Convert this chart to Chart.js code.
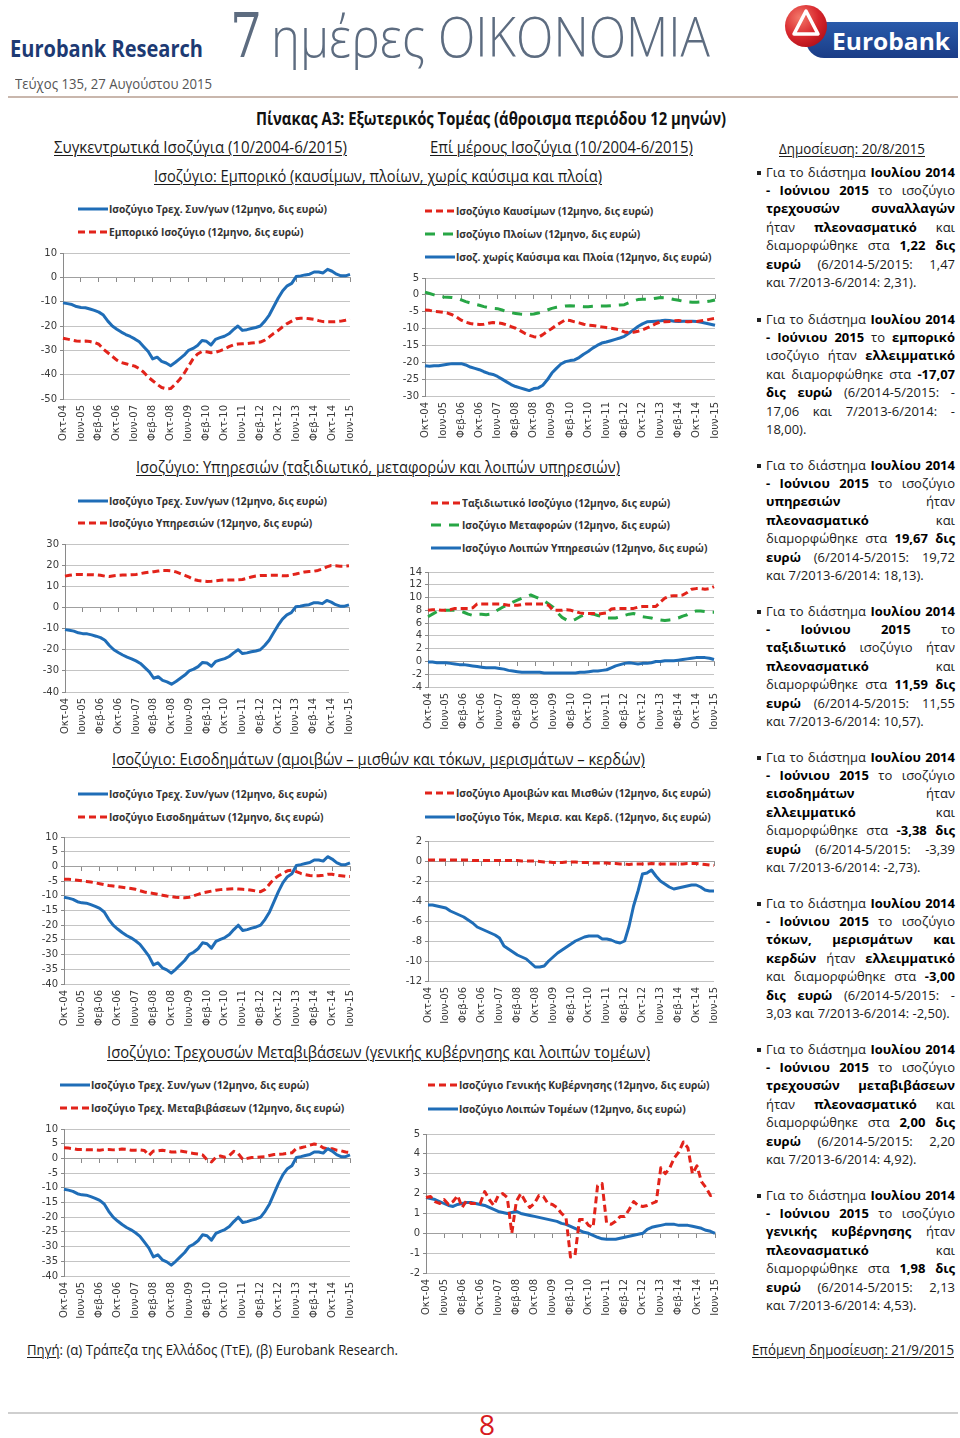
<!DOCTYPE html>
<html lang="el">
<head>
<meta charset="utf-8">
<title>7 ημέρες ΟΙΚΟΝΟΜΙΑ – Πίνακας Α3</title>
<script src="https://cdn.jsdelivr.net/npm/chart.js@4.4.1/dist/chart.umd.min.js"></script>
<style>
  html, body { margin: 0; padding: 0; background: #fff; }
  body { position: relative; width: 960px; height: 1438px; overflow: hidden;
         font-family: 'Open Sans', 'Noto Sans', sans-serif; color: #1a1a1a; }
  .t { position: absolute; white-space: nowrap; transform-origin: 0 50%; }
  .u { text-decoration: underline; text-decoration-thickness: 1px; text-underline-offset: 2px; }
  .rule { position: absolute; left: 8px; width: 950px; height: 2px; }
  .box { position: absolute; }
  .lg { position: absolute; height: 16px; display: flex; align-items: center; white-space: nowrap;
        font-weight: 700; font-size: 10.5px; color: #333; }
  .lg svg { flex: none; margin-right: 1px; }
  .lg span { display: inline-block; transform-origin: 0 50%; }
  .note { position: absolute; left: 766px; width: 189px; font-size: 13px; line-height: 18.4px; color: #1a1a1a; }
  .note .ln { display: flex; justify-content: space-between; white-space: nowrap; height: 18.4px; }
  .note .ln.last { display: block; }
  .note b { font-weight: 700; color: #000; }
  .note .sq { position: absolute; left: -9px; top: 8px; width: 4px; height: 4px; background: #222; }
</style>
</head>
<body>

<div class="t" style="left:10px;top:33px;font-size:23px;line-height:30px;font-weight:700;color:#1d3a73" data-w="193">Eurobank Research</div>
<div class="t" style="left:230px;top:3px;font-family:'DejaVu Serif';font-size:62px;line-height:66px;color:#5d6c80" data-w="32">7</div>
<div class="t" style="left:271px;top:5px;font-size:56px;line-height:60px;font-weight:300;color:#5d6c80" data-w="439">ημέρες ΟΙΚΟΝΟΜΙΑ</div>

<svg class="box" style="left:784px;top:3px" width="176" height="58" viewBox="0 0 176 58">
  <defs>
    <radialGradient id="rg" cx="35%" cy="30%" r="75%">
      <stop offset="0" stop-color="#f47a6b"/><stop offset="0.6" stop-color="#d8272d"/><stop offset="1" stop-color="#b5121b"/>
    </radialGradient>
    <linearGradient id="bg" x1="0" y1="0" x2="0" y2="1">
      <stop offset="0" stop-color="#2a5bab"/><stop offset="1" stop-color="#1a3c86"/>
    </linearGradient>
  </defs>
  <path d="M40 19 H174 V55 H40 A18 18 0 0 1 40 19 Z" fill="url(#bg)"/>
  <circle cx="22" cy="23" r="21" fill="url(#rg)"/>
  <path d="M22 8 L34 31 H10 Z" fill="none" stroke="#fff" stroke-width="3.5" stroke-linejoin="round"/>
</svg>
<div class="t" style="left:832px;top:26px;font-size:24px;line-height:30px;font-weight:700;color:#fff" data-w="118">Eurobank</div>

<div class="t" style="left:15px;top:73px;font-size:15px;line-height:20px;color:#555" data-w="197">Τεύχος 135, 27 Αυγούστου 2015</div>
<div class="rule" style="top:96px;background:#c9b7ad"></div>

<div class="t" style="left:256px;top:108px;font-size:17px;line-height:22px;font-weight:700;color:#111" data-w="470">Πίνακας Α3: Εξωτερικός Τομέας (άθροισμα περιόδου 12 μηνών)</div>
<div class="t u" style="left:54px;top:136px;font-size:17px;line-height:22px" data-w="293">Συγκεντρωτικά Ισοζύγια (10/2004-6/2015)</div>
<div class="t u" style="left:430px;top:136px;font-size:17px;line-height:22px" data-w="263">Επί μέρους Ισοζύγια (10/2004-6/2015)</div>
<div class="t u" style="left:779px;top:138px;font-size:15px;line-height:20px" data-w="146">Δημοσίευση: 20/8/2015</div>

<div class="t u" style="left:154px;top:165px;font-size:17px;line-height:22px" data-w="448">Ισοζύγιο: Εμπορικό (καυσίμων, πλοίων, χωρίς καύσιμα και πλοία)</div>
<div class="t u" style="left:136px;top:456px;font-size:17px;line-height:22px" data-w="484">Ισοζύγιο: Υπηρεσιών (ταξιδιωτικό, μεταφορών και λοιπών υπηρεσιών)</div>
<div class="t u" style="left:112px;top:748px;font-size:17px;line-height:22px" data-w="533">Ισοζύγιο: Εισοδημάτων (αμοιβών – μισθών και τόκων, μερισμάτων – κερδών)</div>
<div class="t u" style="left:107px;top:1041px;font-size:17px;line-height:22px" data-w="543">Ισοζύγιο: Τρεχουσών Μεταβιβάσεων (γενικής κυβέρνησης και λοιπών τομέων)</div>

<div class="t" style="left:27px;top:1340px;font-size:14.5px;line-height:20px" data-w="371"><span class="u">Πηγή</span>: (α) Τράπεζα της Ελλάδος (ΤτΕ), (β) Eurobank Research.</div>
<div class="t u" style="left:752px;top:1340px;font-size:14.5px;line-height:20px" data-w="202">Επόμενη δημοσίευση: 21/9/2015</div>
<div class="rule" style="top:1412px;background:#cfcfcf"></div>
<div class="t" style="left:479px;top:1409px;font-size:28px;line-height:30px;color:#d71920">8</div>

<script>
// bimonthly points, Oct-04 .. Jun-15 (labels shown every 8 months)
const months = [
  'Οκτ-04','Δεκ-04',
  'Φεβ-05','Απρ-05','Ιουν-05','Αυγ-05','Οκτ-05','Δεκ-05',
  'Φεβ-06','Απρ-06','Ιουν-06','Αυγ-06','Οκτ-06','Δεκ-06',
  'Φεβ-07','Απρ-07','Ιουν-07','Αυγ-07','Οκτ-07','Δεκ-07',
  'Φεβ-08','Απρ-08','Ιουν-08','Αυγ-08','Οκτ-08','Δεκ-08',
  'Φεβ-09','Απρ-09','Ιουν-09','Αυγ-09','Οκτ-09','Δεκ-09',
  'Φεβ-10','Απρ-10','Ιουν-10','Αυγ-10','Οκτ-10','Δεκ-10',
  'Φεβ-11','Απρ-11','Ιουν-11','Αυγ-11','Οκτ-11','Δεκ-11',
  'Φεβ-12','Απρ-12','Ιουν-12','Αυγ-12','Οκτ-12','Δεκ-12',
  'Φεβ-13','Απρ-13','Ιουν-13','Αυγ-13','Οκτ-13','Δεκ-13',
  'Φεβ-14','Απρ-14','Ιουν-14','Αυγ-14','Οκτ-14','Δεκ-14',
  'Φεβ-15','Απρ-15','Ιουν-15'
];
const labelEvery = 4;

// 12-month sums, bn euro
const currentAccount = [
  -10.5,-10.8,-11.2,-12.0,-12.4,-12.5,-13.0,-13.6,
  -14.3,-15.5,-18.0,-20.0,-21.3,-22.5,-23.5,-24.3,
  -25.3,-26.5,-28.5,-30.5,-33.5,-32.8,-34.5,-35.2,
  -36.3,-35.0,-33.5,-32.0,-30.0,-29.2,-28.0,-26.0,
  -26.3,-27.8,-25.5,-24.8,-24.2,-23.2,-21.5,-20.0,
  -21.8,-21.5,-21.0,-20.6,-20.0,-18.0,-15.5,-12.0,
  -8.5,-5.5,-3.5,-2.5,0.3,0.6,1.0,1.3,
  2.2,2.2,1.8,3.3,2.5,1.3,0.6,0.6,
  1.2
];
const tradeBalance = [
  -25.0,-25.4,-25.8,-26.2,-26.3,-26.2,-26.4,-26.8,
  -27.5,-29.5,-31.0,-32.5,-34.0,-35.0,-35.5,-36.0,
  -36.5,-37.5,-39.0,-41.0,-42.5,-44.0,-45.3,-45.8,
  -45.7,-44.0,-42.0,-39.5,-36.5,-33.5,-31.5,-30.5,
  -30.6,-31.0,-30.8,-30.2,-29.5,-28.5,-27.8,-27.4,
  -27.3,-27.2,-27.0,-26.8,-26.6,-25.8,-24.5,-23.0,
  -21.8,-20.3,-19.0,-18.0,-17.0,-16.8,-16.8,-17.0,
  -17.3,-17.8,-18.2,-18.3,-18.3,-18.2,-18.0,-17.6,
  -17.1
];
const fuelBalance = [
  -4.5,-4.6,-4.9,-5.0,-5.2,-5.4,-5.9,-6.6,
  -7.5,-8.1,-8.5,-8.7,-8.8,-8.7,-8.4,-8.2,
  -8.3,-8.5,-8.9,-9.4,-9.9,-10.6,-11.4,-12.0,
  -12.4,-12.6,-11.8,-10.8,-10.0,-9.0,-8.2,-7.4,
  -7.6,-8.0,-8.3,-8.7,-9.0,-9.1,-9.3,-9.5,
  -9.7,-9.9,-10.1,-10.4,-11.0,-11.2,-11.1,-10.8,
  -10.4,-9.8,-9.2,-8.5,-8.0,-8.0,-7.9,-7.7,
  -7.6,-7.8,-8.0,-7.9,-7.9,-7.7,-7.5,-7.2,
  -7.0
];
const shipsBalance = [
  0.8,0.4,0.0,-0.4,-0.6,-0.7,-0.8,-1.0,
  -1.5,-2.0,-2.4,-2.8,-3.1,-3.5,-3.8,-4.0,
  -4.1,-4.5,-5.0,-5.3,-5.5,-5.7,-5.8,-5.8,
  -5.7,-5.4,-5.0,-4.5,-4.0,-3.7,-3.5,-3.3,
  -3.2,-3.3,-3.4,-3.5,-3.5,-3.4,-3.3,-3.3,
  -3.3,-3.2,-3.1,-3.0,-2.9,-2.3,-1.8,-1.4,
  -1.3,-1.3,-1.2,-1.0,-0.8,-0.9,-1.1,-1.4,
  -1.6,-1.9,-2.1,-2.2,-2.2,-2.1,-2.0,-1.8,
  -1.5
];
const nonFuelShips = [
  -21.0,-21.2,-21.0,-21.0,-20.8,-20.6,-20.4,-20.4,
  -20.4,-20.8,-21.4,-21.8,-22.2,-22.8,-23.3,-23.6,
  -24.2,-25.0,-25.8,-26.6,-27.2,-27.6,-28.0,-28.4,
  -27.8,-27.6,-26.8,-25.2,-23.2,-21.8,-20.5,-19.8,
  -19.5,-19.3,-18.6,-17.6,-16.8,-15.8,-15.0,-14.3,
  -14.0,-13.6,-13.2,-12.8,-12.3,-11.4,-10.4,-9.4,
  -8.6,-8.0,-7.9,-7.8,-7.7,-7.5,-7.6,-7.8,
  -7.9,-7.8,-7.8,-7.8,-7.9,-8.1,-8.4,-8.7,
  -9.0
];
const servicesBalance = [
  14.8,15.2,15.5,15.6,15.6,15.5,15.5,15.4,
  15.2,14.8,14.6,15.0,15.2,15.3,15.4,15.5,
  15.6,16.0,16.4,16.7,16.9,17.2,17.5,17.5,
  17.3,16.8,16.0,15.2,14.3,13.2,12.7,12.5,
  12.3,12.4,12.6,12.8,13.0,13.0,13.0,13.1,
  13.2,13.8,14.4,14.9,15.1,15.1,15.2,15.2,
  15.2,15.0,15.0,15.4,15.8,16.3,16.8,17.0,
  17.1,17.5,18.2,19.2,19.8,19.7,19.5,19.5,
  19.7
];
const travelBalance = [
  8.0,8.1,8.1,8.0,8.0,8.1,8.3,8.3,
  8.3,8.3,8.4,9.0,9.0,9.0,9.0,9.0,
  9.0,8.9,8.8,8.8,8.8,8.9,9.0,9.0,
  9.0,9.0,9.0,8.8,8.0,8.0,8.0,8.1,
  8.0,7.8,7.6,7.5,7.5,7.5,7.4,7.5,
  7.6,8.2,8.3,8.3,8.3,8.3,8.3,8.5,
  8.6,8.6,8.6,8.6,9.3,9.9,10.2,10.3,
  10.3,10.4,10.8,11.3,11.4,11.4,11.3,11.4,
  11.7
];
const transportBalance = [
  7.0,7.4,7.8,8.0,8.0,8.0,8.0,7.9,
  7.7,7.4,7.2,7.4,7.4,7.3,7.4,7.8,
  8.2,8.6,8.9,9.3,9.6,9.9,10.1,10.4,
  10.1,9.8,9.5,9.0,8.5,7.6,6.9,6.5,
  6.3,6.6,7.0,7.3,7.5,7.4,7.2,7.0,
  6.8,6.8,6.8,7.0,7.2,7.4,7.5,7.3,
  7.0,6.9,6.8,6.6,6.5,6.4,6.5,6.6,
  6.8,7.1,7.3,7.7,7.9,7.9,7.8,7.7,
  7.7
];
const otherServices = [
  -0.1,-0.1,-0.2,-0.2,-0.2,-0.3,-0.4,-0.5,
  -0.5,-0.6,-0.7,-0.8,-0.9,-1.0,-1.0,-1.0,
  -1.1,-1.2,-1.4,-1.5,-1.6,-1.7,-1.7,-1.7,
  -1.7,-1.7,-1.8,-1.8,-1.8,-1.8,-1.8,-1.8,
  -1.8,-1.8,-1.7,-1.7,-1.6,-1.5,-1.5,-1.4,
  -1.3,-1.0,-0.7,-0.5,-0.3,-0.2,-0.3,-0.4,
  -0.3,-0.3,-0.2,0.0,0.0,0.1,0.1,0.1,
  0.2,0.3,0.4,0.5,0.6,0.6,0.6,0.5,
  0.3
];
const incomeBalance = [
  -4.4,-4.4,-4.5,-4.7,-4.9,-5.1,-5.3,-5.6,
  -5.9,-6.2,-6.5,-6.7,-6.9,-7.1,-7.3,-7.5,
  -7.8,-8.3,-8.7,-9.0,-9.2,-9.5,-9.8,-10.1,
  -10.3,-10.5,-10.6,-10.7,-10.5,-10.0,-9.5,-9.0,
  -8.7,-8.4,-8.1,-7.9,-7.8,-7.7,-7.6,-7.7,
  -7.8,-7.9,-8.1,-8.4,-8.6,-7.8,-6.0,-4.2,
  -3.2,-2.3,-1.5,-1.3,-1.8,-2.4,-2.8,-3.1,
  -3.2,-3.2,-3.0,-2.7,-2.7,-3.0,-3.2,-3.4,
  -3.4
];
const compensation = [
  0.1,0.1,0.1,0.1,0.1,0.1,0.1,0.1,
  0.1,0.1,0.05,0.05,0.05,0.05,0.05,0.05,
  0.05,0.05,0.05,0.05,0.05,0.0,0.0,0.0,
  0.0,-0.05,-0.1,-0.1,-0.15,-0.15,-0.15,-0.1,
  -0.1,-0.1,-0.15,-0.15,-0.15,-0.2,-0.2,-0.2,
  -0.2,-0.25,-0.25,-0.3,-0.3,-0.35,-0.3,-0.3,
  -0.3,-0.3,-0.25,-0.3,-0.3,-0.3,-0.3,-0.3,
  -0.3,-0.3,-0.25,-0.25,-0.25,-0.3,-0.35,-0.4,
  -0.45
];
const interestDividends = [
  -4.4,-4.4,-4.5,-4.6,-4.7,-5.0,-5.2,-5.4,
  -5.6,-5.9,-6.2,-6.6,-6.8,-7.0,-7.2,-7.4,
  -7.7,-8.5,-8.8,-9.1,-9.4,-9.6,-9.8,-10.2,
  -10.6,-10.6,-10.5,-10.0,-9.6,-9.2,-8.9,-8.6,
  -8.3,-8.0,-7.8,-7.6,-7.5,-7.5,-7.5,-7.8,
  -7.8,-7.9,-8.1,-8.2,-8.0,-6.5,-4.5,-3.0,
  -1.3,-1.2,-0.9,-1.5,-2.0,-2.3,-2.6,-2.8,
  -2.7,-2.6,-2.5,-2.4,-2.4,-2.6,-2.9,-3.0,
  -3.0
];
const transfersBalance = [
  3.6,3.5,3.3,3.0,3.0,2.9,2.9,2.9,
  2.8,3.0,3.0,2.9,3.0,3.2,3.1,2.8,
  2.8,2.9,2.7,1.0,2.5,2.6,2.8,2.5,
  2.2,2.2,2.5,2.3,1.9,1.7,1.5,1.2,
  -0.5,-1.2,0.4,0.8,0.4,1.0,2.4,1.6,
  -0.3,0.0,0.3,0.4,0.5,0.6,1.0,1.3,
  1.4,1.5,1.7,1.9,3.4,3.6,4.0,4.5,
  4.9,4.6,3.6,3.2,3.3,2.8,2.6,2.2,
  2.0
];
const govBalance = [
  1.8,1.85,1.6,1.5,1.7,1.45,1.6,1.9,
  1.3,1.65,1.5,1.5,1.5,2.1,1.7,1.4,
  1.9,2.0,1.8,0.0,1.6,2.0,1.6,1.3,
  1.5,1.9,1.85,1.5,1.45,1.3,1.0,0.8,
  -1.2,-1.1,0.7,0.7,0.4,0.3,2.4,2.5,
  0.5,0.45,0.6,0.85,0.85,1.2,1.6,1.4,
  1.35,1.4,1.5,1.6,3.3,3.0,3.3,3.8,
  4.1,4.6,4.3,3.0,3.4,2.6,2.3,1.9,
  2.0
];
const otherSectors = [
  1.8,1.75,1.7,1.6,1.5,1.4,1.35,1.45,
  1.5,1.55,1.55,1.5,1.45,1.4,1.3,1.2,
  1.1,1.05,1.0,1.05,1.1,1.0,0.95,0.9,
  0.85,0.8,0.75,0.7,0.65,0.6,0.5,0.45,
  0.35,0.25,0.15,0.05,0.0,-0.1,-0.2,-0.28,
  -0.3,-0.3,-0.3,-0.25,-0.2,-0.15,-0.1,-0.05,
  0.0,0.2,0.3,0.35,0.4,0.45,0.45,0.45,
  0.4,0.4,0.4,0.35,0.3,0.25,0.15,0.1,
  0.0
];

const BLUE = '#1f6db7', RED = '#e2231a', GREEN = '#27a645';
const RED_DASH = [7, 4], GREEN_DASH = [10, 8];

const sCA        = { name: 'Ισοζύγιο Τρεχ. Συν/γων (12μηνο, δις ευρώ)', data: currentAccount, color: BLUE };
const sTrade     = { name: 'Εμπορικό Ισοζύγιο (12μηνο, δις ευρώ)', data: tradeBalance, color: RED, dash: RED_DASH };
const sFuel      = { name: 'Ισοζύγιο Καυσίμων (12μηνο, δις ευρώ)', data: fuelBalance, color: RED, dash: RED_DASH };
const sShips     = { name: 'Ισοζύγιο Πλοίων (12μηνο, δις ευρώ)', data: shipsBalance, color: GREEN, dash: GREEN_DASH };
const sNonFuel   = { name: 'Ισοζ. χωρίς Καύσιμα και Πλοία (12μηνο, δις ευρώ)', data: nonFuelShips, color: BLUE };
const sServices  = { name: 'Ισοζύγιο Υπηρεσιών (12μηνο, δις ευρώ)', data: servicesBalance, color: RED, dash: RED_DASH };
const sTravel    = { name: 'Ταξιδιωτικό Ισοζύγιο (12μηνο, δις ευρώ)', data: travelBalance, color: RED, dash: RED_DASH };
const sTransport = { name: 'Ισοζύγιο Μεταφορών (12μηνο, δις ευρώ)', data: transportBalance, color: GREEN, dash: GREEN_DASH };
const sOtherServ = { name: 'Ισοζύγιο Λοιπών Υπηρεσιών (12μηνο, δις ευρώ)', data: otherServices, color: BLUE };
const sIncome    = { name: 'Ισοζύγιο Εισοδημάτων (12μηνο, δις ευρώ)', data: incomeBalance, color: RED, dash: RED_DASH };
const sComp      = { name: 'Ισοζύγιο Αμοιβών και Μισθών (12μηνο, δις ευρώ)', data: compensation, color: RED, dash: RED_DASH };
const sInterest  = { name: 'Ισοζύγιο Τόκ, Μερισ. και Κερδ. (12μηνο, δις ευρώ)', data: interestDividends, color: BLUE };
const sTransfers = { name: 'Ισοζύγιο Τρεχ. Μεταβιβάσεων (12μηνο, δις ευρώ)', data: transfersBalance, color: RED, dash: RED_DASH };
const sGov       = { name: 'Ισοζύγιο Γενικής Κυβέρνησης (12μηνο, δις ευρώ)', data: govBalance, color: RED, dash: RED_DASH };
const sOtherSect = { name: 'Ισοζύγιο Λοιπών Τομέων (12μηνο, δις ευρώ)', data: otherSectors, color: BLUE };

const tickFont = { family: 'DejaVu Sans', size: 10 };

function drawPanel(area, range, list, lg) {
  const yW = 30, pad = 8, xH = 50;
  const left = area.l - yW, top = area.t - pad;
  const width = area.r + pad - left, height = area.b + xH - top;
  const box = document.createElement('div');
  box.className = 'box';
  Object.assign(box.style, { left: left + 'px', top: top + 'px', width: width + 'px', height: height + 'px' });
  const cv = document.createElement('canvas');
  cv.width = width; cv.height = height;
  cv.style.width = width + 'px'; cv.style.height = height + 'px';
  box.appendChild(cv);
  document.body.appendChild(box);

  new Chart(cv, {
    type: 'line',
    data: {
      labels: months,
      datasets: list.map(s => ({
        label: s.name, data: s.data,
        borderColor: s.color, backgroundColor: s.color,
        borderWidth: 3, borderDash: s.dash || [],
        borderCapStyle: 'butt', borderJoinStyle: 'round',
        pointRadius: 0, tension: 0, fill: false
      }))
    },
    options: {
      responsive: false, animation: false,
      layout: { padding: { top: pad, right: pad, left: 0, bottom: 0 } },
      plugins: { legend: { display: false }, tooltip: { enabled: false } },
      scales: {
        x: {
          type: 'category',
          grid: { display: false, drawTicks: false },
          border: { display: false },
          ticks: {
            autoSkip: false, maxRotation: 90, minRotation: 90, padding: 6,
            color: '#3a3a3a', font: tickFont,
            callback: (v, i) => i % labelEvery === 0 ? months[i] : ''
          },
          afterFit: s => { s.height = xH; }
        },
        // horizontal axis crossing at zero, with tick marks only
        x0: {
          type: 'category', axis: 'x', position: { y: 0 },
          ticks: { display: false },
          grid: {
            drawOnChartArea: false, drawTicks: true, tickLength: 4,
            tickColor: c => c.index % labelEvery === 0 ? '#8a8a8a' : 'rgba(0,0,0,0)'
          },
          border: { color: '#a0a0a0' }
        },
        y: {
          min: range[0], max: range[1],
          ticks: { stepSize: range[2], autoSkip: false, color: '#3a3a3a', font: tickFont, padding: 3 },
          grid: { color: '#c4c4c4', tickLength: 3, tickColor: '#8a8a8a' },
          border: { color: '#8a8a8a' },
          afterFit: s => { s.width = yW; }
        }
      }
    }
  });

  list.forEach((s, k) => {
    const d = document.createElement('div');
    d.className = 'lg';
    d.style.left = lg.x + 'px';
    d.style.top = (lg.ys[k] - 8) + 'px';
    d.innerHTML = '<svg width="30" height="16"><line x1="0" y1="8" x2="30" y2="8" stroke="' + s.color +
      '" stroke-width="3" stroke-dasharray="' + (s.dash || []).join(' ') + '"/></svg><span>' + s.name + '</span>';
    document.body.appendChild(d);
  });
}

drawPanel({ l: 63,  r: 360, t: 252,  b: 399 },  [-50, 10, 10], [sCA, sTrade],                 { x: 78,  ys: [209, 232] });
drawPanel({ l: 425, r: 725, t: 277,  b: 396 },  [-30, 5, 5],   [sFuel, sShips, sNonFuel],     { x: 425, ys: [211, 234, 257] });
drawPanel({ l: 65,  r: 359, t: 543,  b: 692 },  [-40, 30, 10], [sCA, sServices],              { x: 78,  ys: [501, 523] });
drawPanel({ l: 428, r: 724, t: 571,  b: 687 },  [-4, 14, 2],   [sTravel, sTransport, sOtherServ], { x: 431, ys: [503, 525, 548] });
drawPanel({ l: 64,  r: 360, t: 836,  b: 984 },  [-40, 10, 5],  [sCA, sIncome],                { x: 78,  ys: [794, 817] });
drawPanel({ l: 428, r: 724, t: 840,  b: 981 },  [-12, 2, 2],   [sComp, sInterest],            { x: 425, ys: [793, 817] });
drawPanel({ l: 64,  r: 360, t: 1128, b: 1276 }, [-40, 10, 5],  [sCA, sTransfers],             { x: 60,  ys: [1085, 1108] });
drawPanel({ l: 426, r: 725, t: 1133, b: 1273 }, [-2, 5, 1],    [sGov, sOtherSect],            { x: 428, ys: [1085, 1109] });

// commentary column, one entry per bullet; *...* marks bold words
const notes = [
  [173, ['Για το διάστημα *Ιουλίου 2014*', '*- Ιούνιου 2015* το ισοζύγιο', '*τρεχουσών συναλλαγών*', 'ήταν *πλεονασματικό* και', 'διαμορφώθηκε στα *1,22 δις*', '*ευρώ* (6/2014-5/2015: 1,47', 'και 7/2013-6/2014: 2,31).']],
  [320, ['Για το διάστημα *Ιουλίου 2014*', '*- Ιούνιου 2015* το *εμπορικό*', 'ισοζύγιο ήταν *ελλειμματικό*', 'και διαμορφώθηκε στα *-17,07*', '*δις ευρώ* (6/2014-5/2015: -', '17,06 και 7/2013-6/2014: -', '18,00).']],
  [466, ['Για το διάστημα *Ιουλίου 2014*', '*- Ιούνιου 2015* το ισοζύγιο', '*υπηρεσιών* ήταν', '*πλεονασματικό* και', 'διαμορφώθηκε στα *19,67 δις*', '*ευρώ* (6/2014-5/2015: 19,72', 'και 7/2013-6/2014: 18,13).']],
  [612, ['Για το διάστημα *Ιουλίου 2014*', '*- Ιούνιου 2015* το', '*ταξιδιωτικό* ισοζύγιο ήταν', '*πλεονασματικό* και', 'διαμορφώθηκε στα *11,59 δις*', '*ευρώ* (6/2014-5/2015: 11,55', 'και 7/2013-6/2014: 10,57).']],
  [758, ['Για το διάστημα *Ιουλίου 2014*', '*- Ιούνιου 2015* το ισοζύγιο', '*εισοδημάτων* ήταν', '*ελλειμματικό* και', 'διαμορφώθηκε στα *-3,38 δις*', '*ευρώ* (6/2014-5/2015: -3,39', 'και 7/2013-6/2014: -2,73).']],
  [904, ['Για το διάστημα *Ιουλίου 2014*', '*- Ιούνιου 2015* το ισοζύγιο', '*τόκων, μερισμάτων και*', '*κερδών* ήταν *ελλειμματικό*', 'και διαμορφώθηκε στα *-3,00*', '*δις ευρώ* (6/2014-5/2015: -', '3,03 και 7/2013-6/2014: -2,50).']],
  [1050, ['Για το διάστημα *Ιουλίου 2014*', '*- Ιούνιου 2015* το ισοζύγιο', '*τρεχουσών μεταβιβάσεων*', 'ήταν *πλεονασματικό* και', 'διαμορφώθηκε στα *2,00 δις*', '*ευρώ* (6/2014-5/2015: 2,20', 'και 7/2013-6/2014: 4,92).']],
  [1196, ['Για το διάστημα *Ιουλίου 2014*', '*- Ιούνιου 2015* το ισοζύγιο', '*γενικής κυβέρνησης* ήταν', '*πλεονασματικό* και', 'διαμορφώθηκε στα *1,98 δις*', '*ευρώ* (6/2014-5/2015: 2,13', 'και 7/2013-6/2014: 4,53).']]
];

function noteLine(str, last) {
  const div = document.createElement('div');
  div.className = last ? 'ln last' : 'ln';
  let bold = false;
  const parts = str.split(' ').map(w => {
    if (w.startsWith('*')) { bold = true; w = w.slice(1); }
    const close = w.endsWith('*');
    if (close) w = w.slice(0, -1);
    const html = bold ? '<b>' + w + '</b>' : '<span>' + w + '</span>';
    if (close) bold = false;
    return html;
  });
  div.innerHTML = parts.join(last ? ' ' : '');
  return div;
}

notes.forEach(([y, lines]) => {
  const n = document.createElement('div');
  n.className = 'note';
  n.style.top = (y - 10.4) + 'px';
  const sq = document.createElement('div');
  sq.className = 'sq';
  n.appendChild(sq);
  lines.forEach((l, i) => n.appendChild(noteLine(l, i === lines.length - 1)));
  document.body.appendChild(n);
});

// squeeze headings to the widths they have in the printed page
function fitWidths() {
  document.querySelectorAll('[data-w]').forEach(el => {
    el.style.transform = 'none';
    const w = el.getBoundingClientRect().width;
    if (w > 0) el.style.transform = 'scaleX(' + (el.dataset.w / w) + ')';
  });
  const spans = document.querySelectorAll('.lg span');
  spans.forEach(s => { s.style.transform = 'none'; });
  const k = 218 / spans[0].getBoundingClientRect().width;
  spans.forEach(s => { s.style.transform = 'scaleX(' + k + ')'; });
}
fitWidths();
document.fonts.ready.then(fitWidths);
</script>
</body>
</html>
